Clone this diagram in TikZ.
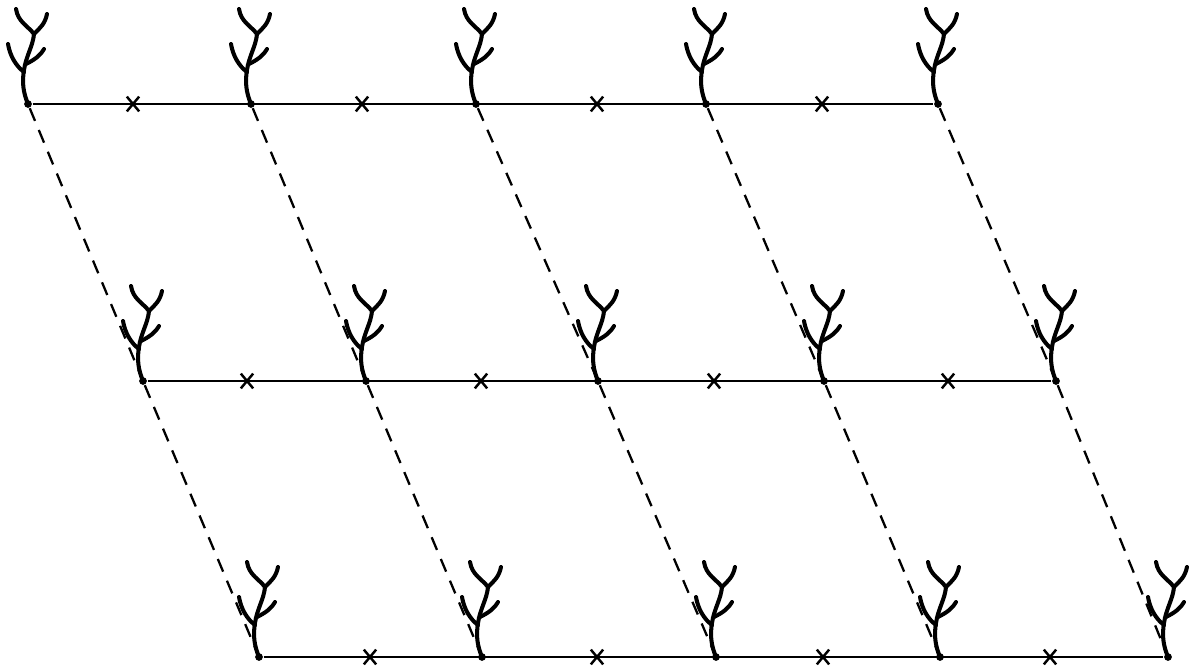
\documentclass[tikz,border=0pt]{standalone}
\usetikzlibrary{shapes.misc}

\tikzset{
  stake/.style={circle, fill=black, inner sep=0pt, minimum size=2.2pt},
  midcross/.style={cross out, draw=black, line width=0.7pt, inner sep=0pt,
    minimum width=2.8pt, minimum height=3.5pt},
  rowline/.style={line width=0.65pt},
  diagline/.style={dash pattern=on 3.9pt off 2.8pt, line width=0.65pt},
  plantline/.style={line width=1.15pt, line cap=round},
  % small seedling standing on a stake
  plant/.pic={
    \draw[plantline] (0,0) .. controls (-5,12) and (-6,22) .. (-4,34)
      .. controls (-2,48) and (5,58) .. (6,70);
    \draw[plantline] (6,70) .. controls (0,78) and (-10,82) .. (-12,95);
    \draw[plantline] (6,70) .. controls (12,76) and (17,80) .. (19,90);
    \draw[plantline] (-4,32) .. controls (-12,38) and (-18,48) .. (-20,60);
    \draw[plantline] (-2,40) .. controls (6,44) and (12,48) .. (16,55);
  }
}

\begin{document}
\begin{tikzpicture}[x=0.01cm, y=0.01cm]
  \useasboundingbox (0,0) rectangle (1193,669);

  % stakes of the three rows
  \foreach \xa [count=\i] in {28,251,476,706,938}
    \node[stake] (a\i) at (\xa,565) {};
  \foreach \xb [count=\i] in {143,366,598,824,1056}
    \node[stake] (b\i) at (\xb,288) {};
  \foreach \xc [count=\i] in {259,482,716,940,1168}
    \node[stake] (c\i) at (\xc,12) {};

  % rows
  \draw[rowline] (a1) -- (a5);
  \draw[rowline] (b1) -- (b5);
  \draw[rowline] (c1) -- (c5);

  % dashed diagonals
  \foreach \i in {1,...,5}
    \draw[diagline] (a\i) -- (b\i) -- (c\i);

  % crosses between stakes
  \foreach \xa [count=\i] in {133,362,597,822}
    \node[midcross] (ax\i) at (\xa,565) {};
  \foreach \xb [count=\i] in {247,481,714,948}
    \node[midcross] (bx\i) at (\xb,288) {};
  \foreach \xc [count=\i] in {370,597,823,1050}
    \node[midcross] (cx\i) at (\xc,12) {};

  % seedlings
  \foreach \r in {a,b,c}
    \foreach \i in {1,...,5}
      \pic at (\r\i) {plant};
\end{tikzpicture}
\end{document}
